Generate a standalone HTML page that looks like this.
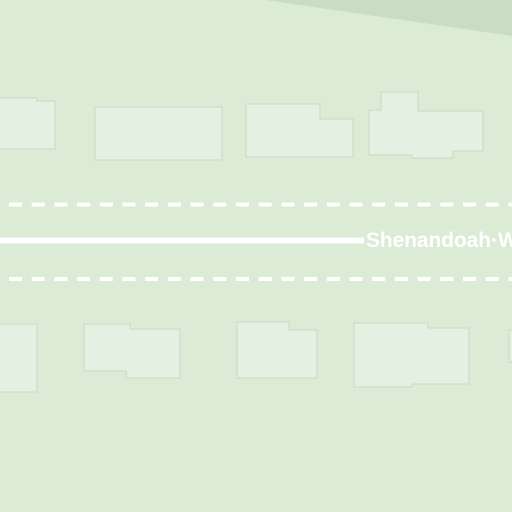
<!DOCTYPE html>
<html><head><meta charset="utf-8"><style>
html,body{margin:0;padding:0;background:#dbebd5;}
svg{display:block}
</style></head><body>
<svg width="512" height="512" viewBox="0 0 512 512" xmlns="http://www.w3.org/2000/svg">
<rect x="0" y="0" width="512" height="512" fill="#dbebd5"/>
<polygon points="266,0 512,0 512,36" fill="#cbdcc5"/>
<g fill="#e4f0e1" stroke="#c8d8c3" stroke-width="1">
<polygon points="-2,98 37,98 37,101 55,101 55,149 -2,149"/>
<polygon points="95,107 222,107 222,160 95,160"/>
<polygon points="246,104 320,104 320,119 353,119 353,157 246,157"/>
<polygon points="381,92 418,92 418,111 483,111 483,151 453,151 453,158 412,158 412,155 369,155 369,110 381,110"/>
<polygon points="-2,324 37,324 37,392 -2,392"/>
<polygon points="84,324 130,324 130,329 180,329 180,378 126,378 126,371 84,371"/>
<polygon points="237,322 289,322 289,330 317,330 317,378 237,378"/>
<polygon points="354,323 428,323 428,328 469,328 469,384 412,384 412,387 354,387"/>
<polygon points="509,330 514,330 514,362 509,362"/>
</g>
<line x1="9" y1="204.5" x2="512" y2="204.5" stroke="#fff" stroke-width="4" stroke-dasharray="13 9.7"/>
<line x1="9" y1="279" x2="512" y2="279" stroke="#fff" stroke-width="4" stroke-dasharray="13 9.7"/>
<line x1="0" y1="240.5" x2="364" y2="240.5" stroke="#fff" stroke-width="6"/>
<text x="366" y="247" font-family="Liberation Sans, sans-serif" font-weight="bold" font-size="21" fill="#fff" textLength="125" lengthAdjust="spacingAndGlyphs">Shenandoah</text>
<text x="491" y="247" font-family="Liberation Sans, sans-serif" font-weight="bold" font-size="21" fill="#fff">·W</text>
</svg>
</body></html>
